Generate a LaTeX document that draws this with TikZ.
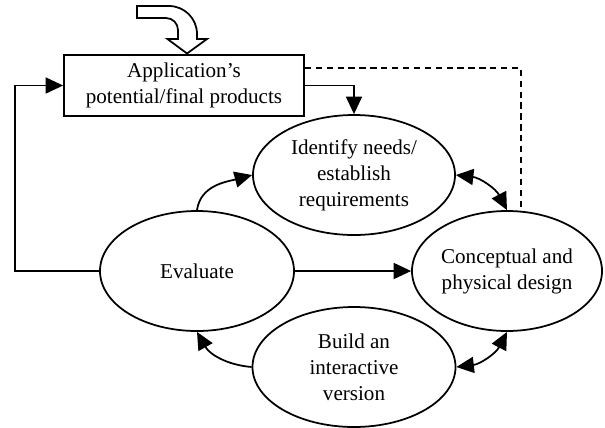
\documentclass[tikz,border=0pt]{standalone}
\usepackage{fontspec}
\setmainfont{Liberation Serif}
\usepackage{tikz}
\usetikzlibrary{arrows.meta, positioning, shapes.geometric}
\tikzset{
  cajaBase/.style={
    draw=black, line width=1pt,
    minimum height=1.22cm, minimum width=4.8cm,
    align=center, font=\fontsize{12}{14.5}\selectfont, inner sep=2pt
  },
  elipseBase/.style={
    ellipse, draw=black, line width=1pt,
    minimum height=2.4cm, minimum width=4cm,
    align=center, font=\fontsize{12}{14.8}\selectfont, inner sep=0pt
  },
  flecha/.style={-{Triangle[length=3.5mm, width=3.2mm]}, line width=1pt},
  flechaDoble/.style={{Triangle[length=3.5mm, width=3.2mm]}-{Triangle[length=3.5mm, width=3.2mm]}, line width=1pt},
  flechaPunteada/.style={line width=1pt, dash pattern=on 3.6pt off 2.6pt},
  flechaHueca/.style={draw=black, line width=1pt, fill=white},
}
\begin{document}
\begin{tikzpicture}[node distance=1.6cm, on grid]
    \useasboundingbox (0,0) rectangle (12.1,-8.54);
    \node[elipseBase, minimum width=3.88cm] (evaluate) at (3.94,-5.42) {Evaluate};
    \node[elipseBase, minimum width=3.8cm, right=6.2cm of evaluate] (design) {Conceptual and\\physical design};
    \node[elipseBase, minimum width=4.04cm, above right=1.92cm and 3.14cm of evaluate] (needs) {Identify needs/\\establish\\requirements};
    \node[elipseBase, minimum width=4.06cm, below right=1.92cm and 3.14cm of evaluate] (build) {Build an\\interactive\\version};
    \node[cajaBase, above left=1.79cm and 3.4cm of needs] (products) {Application’s\\potential/final products};
    \draw[flechaHueca] (2.74,-0.12) -- (3.38,-0.12) arc[start angle=90, end angle=0, radius=0.56]
      -- (3.94,-0.78) -- (4.14,-0.78) -- (3.74,-1.07) -- (3.35,-0.78) -- (3.56,-0.78)
      -- (3.56,-0.60) arc[start angle=0, end angle=90, radius=0.24] -- (2.74,-0.36) -- cycle;
    \draw[flecha] (products.east) -| (needs.north);
    \draw[flechaPunteada] ([yshift=0.35cm]products.east) -| ([xshift=0.28cm]design.north);
    \draw[flecha] (evaluate.west) -- ++(-1.68,0) |- (products.west);
    \draw[flecha] (evaluate.east) -- (design.west);
    \draw[flecha] (evaluate.north) to[out=82, in=195] (needs.west);
    \draw[flechaDoble] (needs.east) to[bend left=28] (design.north);
    \draw[flechaDoble] (build.east) to[bend right=28] (design.south);
    \draw[flecha] (build.west) to[bend left=28] (evaluate.south);
  \end{tikzpicture}
\end{document}
